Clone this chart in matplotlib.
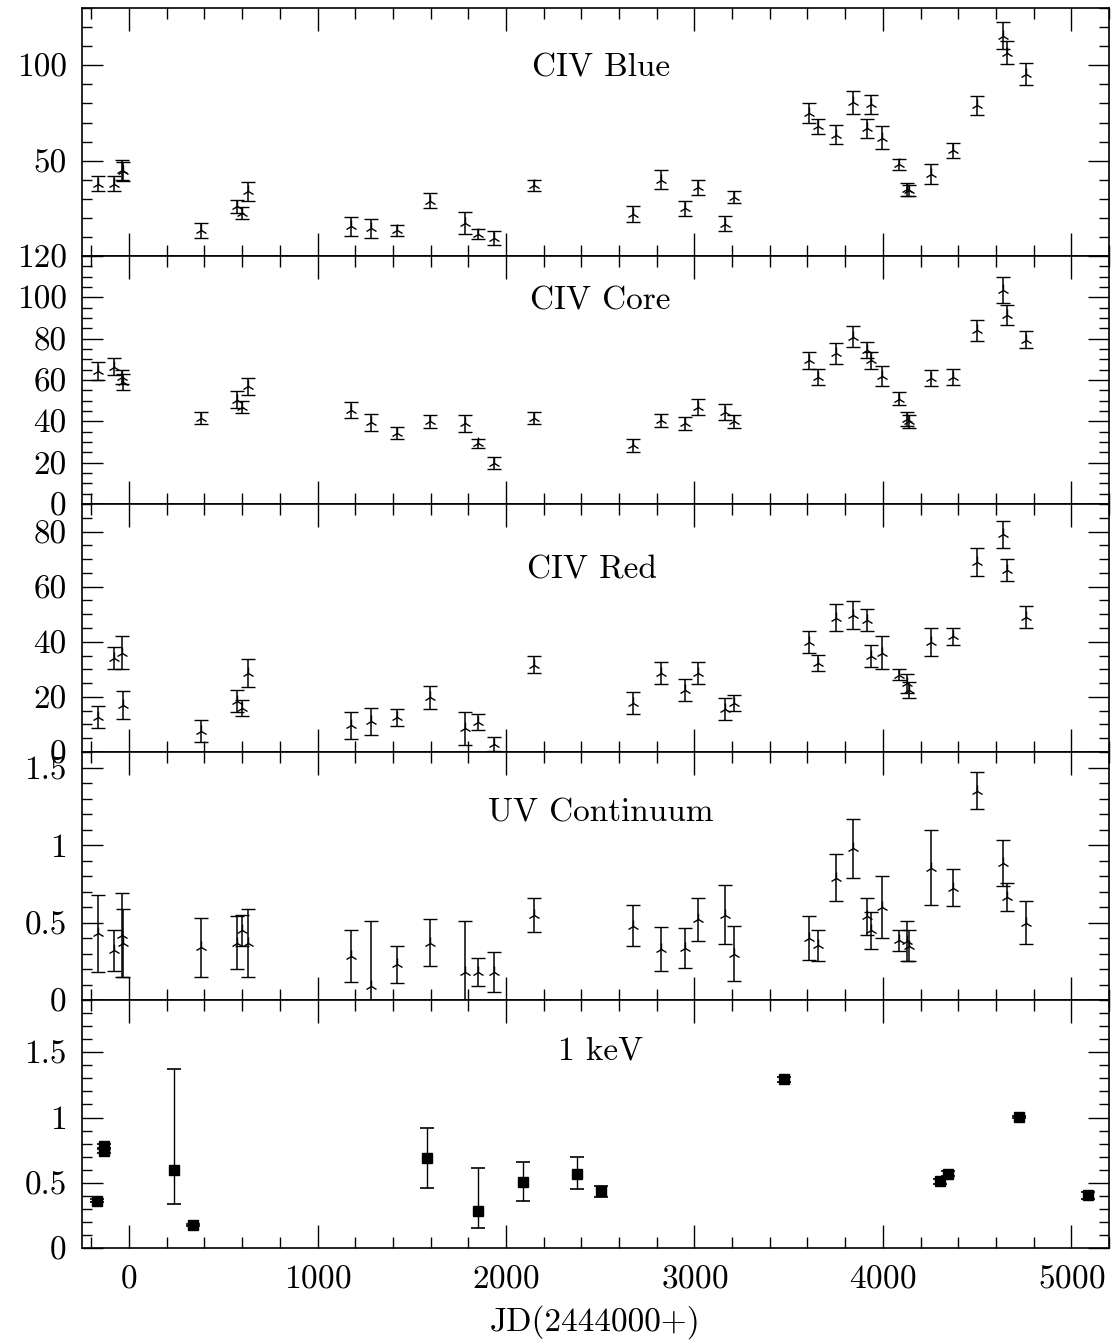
import matplotlib
matplotlib.use('Agg')
import matplotlib.pyplot as plt
from matplotlib.ticker import MultipleLocator, FixedLocator, FuncFormatter

plt.rcParams['font.family'] = 'cmr10'
plt.rcParams['mathtext.fontset'] = 'cm'
plt.rcParams['axes.formatter.use_mathtext'] = True

# epochs of the UV observations, JD - 2444000
jd_uv = [-167, -81, -38, -30, 383, 572, 600, 633, 1178, 1282, 1420, 1598, 1784,
         1854, 1936, 2148, 2674, 2824, 2951, 3020, 3162, 3211, 3609, 3658, 3752,
         3844, 3918, 3937, 3996, 4084, 4128, 4140, 4254, 4371, 4498, 4637, 4660, 4762]

civ_blue = [38, 38, 45, 44.5, 13.5, 26, 22.5, 34, 15.5, 14.5, 13.5, 29, 17.5,
            11.5, 9.5, 37, 22, 40, 25, 36, 17, 31, 75, 68, 63.5,
            80.5, 67, 79.5, 62, 48, 35, 34.5, 43, 55.5, 79, 115.5, 106.5, 95.5]
civ_blue_err = [4, 4, 5.2, 5, 4, 3.6, 3, 5, 5, 5, 3, 4, 5.7,
                2.8, 3.8, 3, 4, 5, 4, 4, 4, 3, 5, 4, 5,
                5.8, 5, 5, 6, 3, 3.5, 3, 5, 4, 5, 7, 6, 5.6]

civ_core = [64.5, 66.5, 61.5, 59, 41.5, 50.5, 47, 57, 45.5, 39.5, 34.5, 40, 39,
            29.5, 20, 41.5, 28.5, 40.5, 39, 47, 44.5, 40, 69.5, 61.5, 73,
            81, 74.5, 69.5, 62, 51, 41, 40, 61, 61.5, 84, 103.5, 91.5, 79.5]
civ_core_err = [4.3, 4, 3.5, 4, 3, 4, 3, 4, 4, 4, 3, 3, 4,
                2.2, 3, 3, 3.2, 3, 3, 4, 4, 3, 4, 4, 5,
                5, 4, 4, 5, 3, 3.4, 3, 4, 4, 5, 6.3, 5, 4.2]

civ_red = [12.8, 34, 36, 17, 7.7, 18.6, 16, 28.6, 9.7, 11.1, 12.6, 19.8, 8.7,
           10.9, 2.9, 31.7, 17.8, 28.6, 22.6, 28.6, 15.7, 17.8, 40, 32.3, 48.8,
           49.8, 48, 34.7, 36, 28, 25, 22.6, 40, 42, 69, 79, 66, 49]
civ_red_err = [4, 4, 6, 5, 4, 4, 3, 5, 5, 5, 3, 4, 6,
               3, 2.5, 3, 4, 4, 4, 4, 4, 3, 4, 3, 5,
               5, 4, 4, 6, 2, 3.5, 3, 5, 3, 5, 5, 4, 4]

uv_cont = [0.43, 0.32, 0.42, 0.37, 0.34, 0.37, 0.45, 0.37, 0.285, 0.09, 0.23, 0.37, 0.18,
           0.18, 0.18, 0.55, 0.48, 0.33, 0.335, 0.52, 0.55, 0.30, 0.40, 0.355, 0.79,
           0.98, 0.54, 0.45, 0.60, 0.385, 0.38, 0.35, 0.855, 0.725, 1.35, 0.885, 0.665, 0.50]
uv_cont_err = [0.25, 0.13, 0.27, 0.22, 0.19, 0.17, 0.10, 0.22, 0.17, 0.42, 0.12, 0.15, 0.33,
               0.09, 0.13, 0.11, 0.13, 0.14, 0.13, 0.14, 0.19, 0.18, 0.14, 0.10, 0.15,
               0.19, 0.12, 0.12, 0.20, 0.07, 0.13, 0.10, 0.24, 0.12, 0.12, 0.15, 0.09, 0.14]

# X-ray (1 keV) points
jd_x = [-172, -134, -134, 237, 337, 1580, 1852, 2093, 2379, 2506, 3473, 4303, 4344, 4723, 5090]
kev1 = [0.363, 0.78, 0.745, 0.60, 0.176, 0.687, 0.286, 0.503, 0.569, 0.434, 1.293,
        0.510, 0.569, 1.005, 0.403]
kev1_lo = [0.01, 0.02, 0.02, 0.26, 0.01, 0.23, 0.135, 0.14, 0.115, 0.04, 0.02,
           0.02, 0.02, 0.01, 0.03]
kev1_hi = [0.01, 0.02, 0.02, 0.77, 0.01, 0.23, 0.33, 0.16, 0.125, 0.04, 0.02,
           0.02, 0.02, 0.01, 0.03]

FS = 24

fig = plt.figure(figsize=(11.17, 13.44), dpi=100)
axes = fig.subplots(5, 1, sharex=True, gridspec_kw=dict(hspace=0))
fig.subplots_adjust(left=0.0734, right=0.9928, top=0.994, bottom=0.0714)

fmt_g = FuncFormatter(lambda v, p: '%g' % v)

panels = [
    (civ_blue, civ_blue_err, 'CIV Blue', (0, 130), [50, 100], 10, 0.505, 0.76),
    (civ_core, civ_core_err, 'CIV Core', (0, 120), [0, 20, 40, 60, 80, 100, 120], 5, 0.505, 0.82),
    (civ_red, civ_red_err, 'CIV Red', (0, 90), [0, 20, 40, 60, 80], 5, 0.497, 0.735),
    (uv_cont, uv_cont_err, 'UV Continuum', (0, 1.6), [0, 0.5, 1, 1.5], 0.1, 0.505, 0.754),
]

for ax, (vals, errs, name, ylim, majors, minor, tx, ty) in zip(axes[:4], panels):
    ax.errorbar(jd_uv, vals, yerr=errs, fmt='2', color='k', ms=9, mew=1.0,
                capsize=5, elinewidth=1.1, capthick=1.2)
    ax.set_ylim(*ylim)
    ax.yaxis.set_major_locator(FixedLocator(majors))
    ax.yaxis.set_minor_locator(MultipleLocator(minor))
    ax.yaxis.set_major_formatter(fmt_g)
    ax.text(tx, ty, name, transform=ax.transAxes, ha='center', va='center', fontsize=FS)

ax = axes[4]
ax.errorbar(jd_x, kev1, yerr=[kev1_lo, kev1_hi], fmt='s', color='k', ms=7,
            capsize=5, elinewidth=1.0, capthick=1.2)
ax.set_ylim(0, 1.9)
ax.yaxis.set_major_locator(FixedLocator([0, 0.5, 1, 1.5]))
ax.yaxis.set_minor_locator(MultipleLocator(0.1))
ax.yaxis.set_major_formatter(fmt_g)
ax.text(0.505, 0.795, '1 keV', transform=ax.transAxes, ha='center', va='center', fontsize=FS)

for ax in axes:
    ax.set_xlim(-250, 5200)
    ax.xaxis.set_major_locator(MultipleLocator(1000))
    ax.xaxis.set_minor_locator(MultipleLocator(200))
    ax.tick_params(which='both', direction='in', top=True, right=True, width=1.0,
                   labelsize=FS, colors='k')
    ax.tick_params(axis='x', which='major', length=16.5, pad=12)
    ax.tick_params(axis='x', which='minor', length=8)
    ax.tick_params(axis='y', which='major', length=15, pad=11)
    ax.tick_params(axis='y', which='minor', length=7.5)
    for s in ax.spines.values():
        s.set_linewidth(1.2)

axes[4].set_xlabel('JD(2444000+)', fontsize=FS, labelpad=8)

plt.savefig('out.png', dpi=100)
